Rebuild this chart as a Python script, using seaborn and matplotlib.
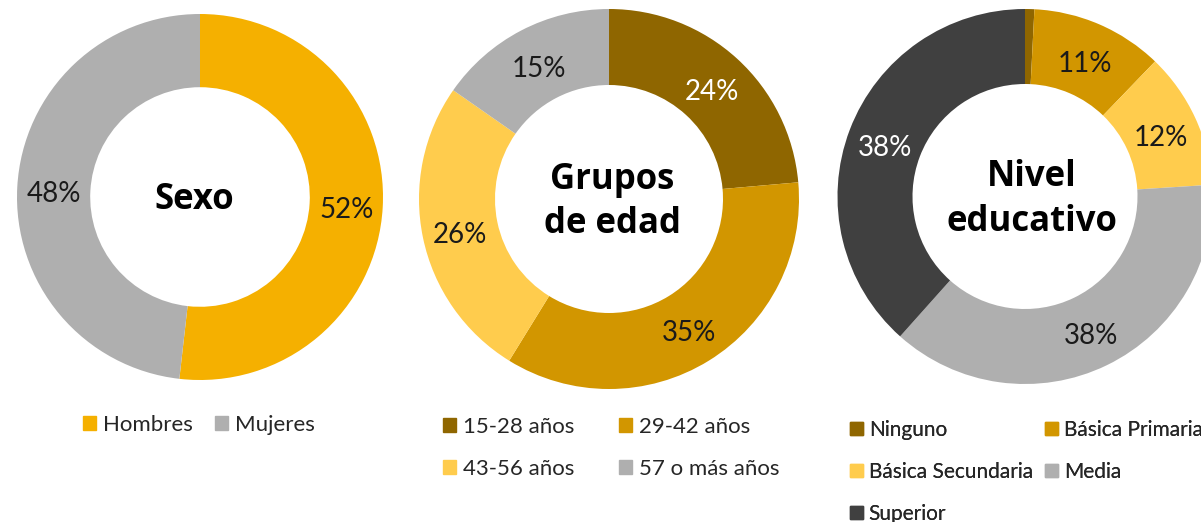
import matplotlib
matplotlib.use("Agg")
import matplotlib.pyplot as plt
import matplotlib.patches as mpatches
import seaborn as sns

sns.set_theme(style="white")
plt.rcParams['font.family'] = ['Lato', 'DejaVu Sans']

# ---- data ----
sexo_labels = ["Hombres", "Mujeres"]
sexo_values = [51.8, 48.2]
sexo_colors = ["#F5B000", "#AFAFAF"]
sexo_text = ["#1a1a1a", "#1a1a1a"]

edad_labels = ["15-28 años", "29-42 años", "43-56 años", "57 o más años"]
edad_values = [23.6, 35.2, 25.9, 15.3]
edad_colors = ["#8F6600", "#D29600", "#FFCC4D", "#AFAFAF"]
edad_text = ["white", "#1a1a1a", "#1a1a1a", "#1a1a1a"]

edu_labels = ["Ninguno", "Básica Primaria", "Básica Secundaria", "Media", "Superior"]
edu_values = [0.8, 11.4, 11.8, 37.6, 38.4]
edu_colors = ["#8F6600", "#D29600", "#FFCC4D", "#AFAFAF", "#404040"]
edu_text = ["#1a1a1a", "#1a1a1a", "#1a1a1a", "#1a1a1a", "white"]

titles = ["Sexo", "Grupos\nde edad", "Nivel\neducativo"]

W, H = 1201, 522
fig = plt.figure(figsize=(W / 100, H / 100), dpi=100)
ax = fig.add_axes([0, 0, 1, 1])

def donut(values, colors, tcolors, cx, cy, r, title, tdx):
    wedges, texts, autotexts = ax.pie(
        values, colors=colors, startangle=90, counterclock=False,
        center=(cx, H - cy), radius=r,
        wedgeprops=dict(width=0.4 * r, linewidth=0),
        autopct=lambda p: f"{p:.0f}%" if p >= 5 else "",
        pctdistance=0.8, textprops=dict(fontsize=20))
    for t, c in zip(autotexts, tcolors):
        t.set_color(c)
        px, py = t.get_position()
        t.set_position((px, py - 5))
    ax.text(cx + tdx, H - cy - 3, title, ha="center", va="center", fontsize=25,
            fontweight="bold", family=["Open Sans", "DejaVu Sans"],
            linespacing=1.3, color="black")

donut(sexo_values, sexo_colors, sexo_text, 200, 197, 183, titles[0], -6)
donut(edad_values, edad_colors, edad_text, 609, 199, 190, titles[1], 3)
donut(edu_values, edu_colors, edu_text, 1025, 196.5, 187.5, titles[2], 7)

ax.set_xlim(0, W)
ax.set_ylim(0, H)
ax.set_aspect("auto")
ax.axis("off")

def make_legend(labels, colors, order, x, y, colsp, lsp, fs=16):
    handles = [mpatches.Patch(color=colors[i], label=labels[i]) for i in order]
    leg = ax.legend(handles=handles, loc="upper left", bbox_to_anchor=(x, H - y),
                    bbox_transform=ax.transData, ncol=2, frameon=False,
                    fontsize=fs, handlelength=0.6, handleheight=0.6,
                    handletextpad=0.3, columnspacing=colsp, labelspacing=lsp,
                    borderpad=0, borderaxespad=0)
    ax.add_artist(leg)
    return leg

# legends read row by row: order handles for column-major filling
make_legend(sexo_labels, sexo_colors, [0, 1], 83, 415, 1.0, 1.0)
make_legend(edad_labels, edad_colors, [0, 2, 1, 3], 443, 417, 2.0, 1.0)
make_legend(edu_labels, edu_colors, [0, 2, 4, 1, 3], 850, 420, 0.6, 1.06, fs=15)

fig.savefig("out.png", dpi=100)
